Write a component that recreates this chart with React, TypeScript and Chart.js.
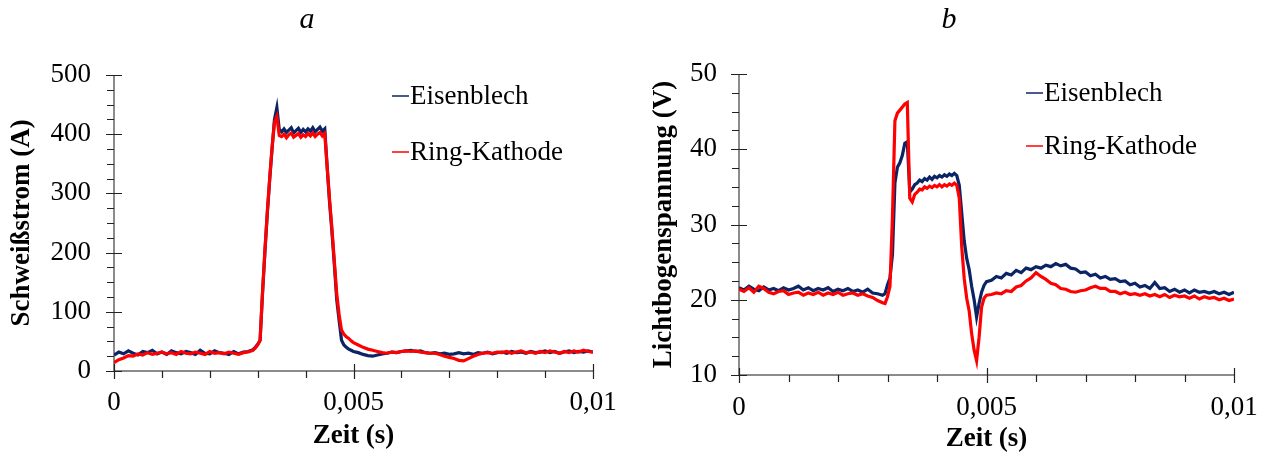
import { useEffect, useRef } from 'react';
import { Chart, registerables } from 'chart.js';

Chart.register(...registerables);

// time axis in microseconds
const TIME_US = [
  0, 100, 200, 300, 400, 500, 600, 700, 800, 900, 1000, 1100, 1200, 1300, 1400, 1500, 1600, 1700, 1800, 1900,
  2000, 2100, 2200, 2300, 2400, 2500, 2600, 2700, 2800, 2900,
  2950, 3000, 3050, 3100, 3150, 3200, 3250, 3300, 3350, 3400, 3450, 3500, 3550, 3600, 3650, 3700, 3750, 3800,
  3850, 3900, 3950, 4000, 4050, 4100, 4150, 4200, 4250, 4300, 4350, 4400, 4450, 4500, 4550, 4600, 4650, 4700,
  4750, 4800, 4850, 4900, 4950, 5000,
  5100, 5200, 5300, 5400, 5500, 5600, 5700, 5800, 5900, 6000, 6100, 6200, 6300, 6400, 6500, 6600, 6700, 6800,
  6900, 7000, 7100, 7200, 7300, 7400, 7500, 7600, 7700, 7800, 7900, 8000, 8100, 8200, 8300, 8400, 8500, 8600,
  8700, 8800, 8900, 9000, 9100, 9200, 9300, 9400, 9500, 9600, 9700, 9800, 9900, 10000,
];

// Schweißstrom (A)
const CURRENT_EISENBLECH = [
  27, 32, 29, 34, 30, 27, 33, 31, 35, 29, 32, 28, 34, 31, 29, 33, 31, 28, 35, 30, 29, 34, 31, 30, 28, 33, 29, 32, 33, 36,
  40, 45, 52, 130, 200, 265, 323, 375, 425, 445, 408, 404, 409, 403, 407, 411, 402, 406, 410, 403, 408, 404, 409, 405,
  411, 404, 408, 412, 405, 409, 345, 285, 235, 180, 120, 85, 52, 44, 40, 37, 35, 33,
  31, 28, 26, 25, 27, 29, 30, 32, 31, 33, 34, 35, 33, 34, 31, 30, 31, 29, 30, 28, 29, 31, 29, 30, 28, 31, 30, 32, 29,
  31, 32, 30, 33, 31, 32, 30, 33, 31, 32, 34, 31, 33, 30, 32, 34, 31, 33, 32, 34, 32,
];
const CURRENT_RING_KATHODE = [
  14, 19, 22, 26, 25, 29, 27, 31, 28, 30, 32, 29, 31, 28, 33, 30, 29, 32, 30, 28, 33, 30, 31, 29, 32, 30, 28, 31, 32, 35,
  39, 44, 52, 132, 203, 268, 325, 378, 420, 430, 398, 396, 400, 394, 399, 402, 395, 398, 401, 395, 399, 396, 401, 397,
  402, 396, 400, 403, 397, 401, 345, 290, 240, 185, 130, 95, 69, 62, 58, 55, 51, 48,
  44, 40, 37, 35, 33, 31, 30, 32, 31, 33, 34, 33, 34, 32, 31, 30, 30, 28, 25, 23, 21, 18, 17, 21, 25, 28, 30, 31, 30,
  32, 31, 33, 30, 32, 34, 31, 32, 30, 33, 31, 34, 32, 30, 33, 31, 34, 32, 35, 33, 32,
];

// Lichtbogenspannung (V)
const VOLTAGE_EISENBLECH = [
  21.6, 21.3, 21.8, 21.4, 21.2, 21.7, 21.3, 21.5, 21.2, 21.6, 21.3, 21.5, 21.8, 21.3, 21.6, 21.2, 21.5, 21.3, 21.6, 21.1,
  21.4, 21.2, 21.5, 21.1, 21.3, 21.0, 21.4, 20.9, 20.8, 20.6,
  20.8, 22.0, 22.9, 26.0, 35.5, 37.6, 38.2, 39.2, 40.8, 41.0, 34.3, 34.7, 35.3, 35.5, 35.9, 35.7, 36.1, 35.9, 36.3, 36.0,
  36.4, 36.2, 36.5, 36.3, 36.6, 36.4, 36.7, 36.5, 36.8, 36.5, 35.2, 31.5, 27.8, 25.5, 24.0, 21.8, 20.0, 17.7, 19.5, 21.0,
  21.9, 22.4,
  22.6, 23.1, 22.9, 23.5, 23.3, 23.9, 23.6, 24.2, 24.0, 24.4, 24.2, 24.6, 24.4, 24.8, 24.5, 24.7, 24.2, 24.1, 23.6, 23.7,
  23.2, 23.4, 22.9, 23.1, 22.7, 22.8, 22.4, 22.5, 22.0, 22.2, 21.7, 21.9, 21.5, 22.3, 21.5, 21.6, 21.1, 21.4, 21.0, 21.3,
  20.9, 21.3, 21.0, 21.1, 20.9, 21.1, 20.8, 21.0, 20.7, 21.0,
];
const VOLTAGE_RING_KATHODE = [
  21.4, 21.1, 21.6, 21.0, 21.8, 21.5, 21.0, 20.8, 21.1, 21.2, 20.7, 20.9, 21.0, 20.6, 20.9, 20.7, 21.0, 20.6, 20.9, 20.7,
  21.0, 20.6, 20.8, 20.9, 20.6, 20.8, 20.5, 20.3, 19.9, 19.6,
  19.5, 20.4, 21.8, 31.0, 43.8, 44.8, 45.2, 45.6, 46.0, 46.2, 33.5, 33.0, 34.0, 34.3, 34.7, 34.6, 35.0, 34.8, 35.1, 34.9,
  35.2, 35.0, 35.3, 35.0, 35.3, 35.1, 35.4, 35.2, 35.5, 35.2, 33.5, 27.0, 22.8, 20.2, 18.5, 15.5, 13.3, 11.9, 15.0, 19.0,
  20.2, 20.6,
  20.7, 20.9, 20.8, 21.2, 21.1, 21.7, 21.9, 22.5, 22.9, 23.6, 23.1, 22.7, 22.2, 22.0, 21.5, 21.4, 21.1, 21.0, 21.2, 21.3,
  21.6, 21.8, 21.5, 21.5, 21.1, 21.1, 20.8, 21.0, 20.7, 20.8, 20.6, 20.8, 20.5, 20.7, 20.4, 20.7, 20.3, 20.6, 20.4, 20.5,
  20.2, 20.5, 20.1, 20.4, 20.2, 20.3, 20.0, 20.2, 19.9, 20.1,
];

const SERIES_NAMES = ['Eisenblech', 'Ring-Kathode'];
const X_TICK_LABELS = ['0', '0,005', '0,01'];
const CURRENT_TICK_LABELS = ['0', '100', '200', '300', '400', '500'];
const VOLTAGE_TICK_LABELS = ['10', '20', '30', '40', '50'];

const BLUE = '#0b2466';
const RED = '#ff0000';
const SERIF = '"Liberation Serif", "Times New Roman", serif';

type PanelCfg = {
  letter: string;
  letterX: number;
  yTitle: string;
  yMin: number;
  yMax: number;
  yMajor: number;
  yMinor: number;
  yLabels: string[];
  blue: number[];
  red: number[];
  canvasLeft: number;
  canvasWidth: number;
  padRight: number;
  padTop: number;
  yAxisWidth: number;
  xAxisHeight: number;
  yLabelPad: number;
  xLabelPad: number;
  yTitlePad: number;
  xTitlePad: number;
  legendX: number;
  legendY: number[];
};

function makePlugin(cfg: PanelCfg) {
  return {
    id: 'customAxes' + cfg.letter,
    beforeDatasetsDraw(chart: any) {
      const { ctx, chartArea } = chart;
      const xs = chart.scales.x;
      const ys = chart.scales.y;
      const x0 = chartArea.left;
      const y0 = chartArea.bottom;
      ctx.save();
      ctx.strokeStyle = '#666';
      ctx.lineWidth = 1.5;
      ctx.beginPath();
      ctx.moveTo(x0, chartArea.top);
      ctx.lineTo(x0, y0);
      ctx.lineTo(chartArea.right, y0);
      ctx.stroke();

      ctx.strokeStyle = '#222';
      ctx.lineWidth = 1.2;
      ctx.beginPath();
      const n = Math.round((cfg.yMax - cfg.yMin) / cfg.yMinor);
      const per = Math.round(cfg.yMajor / cfg.yMinor);
      for (let i = 0; i <= n; i++) {
        const py = Math.round(ys.getPixelForValue(cfg.yMin + i * cfg.yMinor)) + 0.5;
        if (i % per === 0) {
          ctx.moveTo(x0 - 8, py);
          ctx.lineTo(x0 + 8, py);
        } else {
          ctx.moveTo(x0 - 7, py);
          ctx.lineTo(x0, py);
        }
      }
      for (let i = 0; i <= 10; i++) {
        const px = Math.round(xs.getPixelForValue(i * 0.001)) + 0.5;
        if (i % 5 === 0) {
          ctx.moveTo(px, y0 - 7);
          ctx.lineTo(px, y0 + 8);
        } else {
          ctx.moveTo(px, y0);
          ctx.lineTo(px, y0 + 7);
        }
      }
      ctx.stroke();
      ctx.restore();
    },
    afterDraw(chart: any) {
      const { ctx } = chart;
      ctx.save();
      ctx.fillStyle = '#000';
      ctx.font = `italic 30px ${SERIF}`;
      ctx.textAlign = 'center';
      ctx.textBaseline = 'alphabetic';
      ctx.fillText(cfg.letter, cfg.letterX, 28);

      ctx.font = `27px ${SERIF}`;
      ctx.textAlign = 'left';
      ctx.textBaseline = 'middle';
      [BLUE, RED].forEach((c, i) => {
        const ly = cfg.legendY[i];
        ctx.strokeStyle = c;
        ctx.lineWidth = 1.5;
        ctx.beginPath();
        ctx.moveTo(cfg.legendX, ly);
        ctx.lineTo(cfg.legendX + 17, ly);
        ctx.stroke();
        ctx.fillStyle = '#000';
        ctx.fillText(SERIES_NAMES[i], cfg.legendX + 18, ly + 1);
      });
      ctx.restore();
    },
  };
}

function Panel({ cfg }: { cfg: PanelCfg }) {
  const ref = useRef<HTMLCanvasElement | null>(null);
  useEffect(() => {
    if (!ref.current) return;
    const toData = (arr: number[]) => TIME_US.map((t, i) => ({ x: t / 1e6, y: arr[i] }));
    const chart = new Chart(ref.current, {
      type: 'line',
      data: {
        datasets: [
          {
            label: SERIES_NAMES[0],
            data: toData(cfg.blue),
            borderColor: BLUE,
            borderWidth: 3.2,
            pointRadius: 0,
            tension: 0,
            order: 2,
          },
          {
            label: SERIES_NAMES[1],
            data: toData(cfg.red),
            borderColor: RED,
            borderWidth: 3.2,
            pointRadius: 0,
            tension: 0,
            order: 1,
          },
        ],
      },
      options: {
        responsive: false,
        animation: false,
        layout: { padding: { left: 0, right: cfg.padRight, top: cfg.padTop, bottom: 0 } },
        plugins: { legend: { display: false }, tooltip: { enabled: false }, title: { display: false } },
        scales: {
          x: {
            type: 'linear',
            min: 0,
            max: 0.01,
            afterFit: (s: any) => {
              s.height = cfg.xAxisHeight;
            },
            grid: { display: false, drawTicks: false, tickLength: 0 },
            border: { display: false },
            ticks: {
              stepSize: 0.001,
              autoSkip: false,
              maxRotation: 0,
              padding: cfg.xLabelPad,
              color: '#000',
              font: { family: SERIF, size: 27, lineHeight: 1 },
              callback: (v: any) => {
                const k = Math.round(Number(v) / 0.001);
                return k % 5 === 0 ? X_TICK_LABELS[k / 5] : '';
              },
            },
            title: {
              display: true,
              text: 'Zeit (s)',
              color: '#000',
              font: { family: SERIF, size: 27, weight: 'bold', lineHeight: 1 },
              padding: { top: 0, bottom: cfg.xTitlePad },
            },
          },
          y: {
            type: 'linear',
            min: cfg.yMin,
            max: cfg.yMax,
            afterFit: (s: any) => {
              s.width = cfg.yAxisWidth;
            },
            grid: { display: false, drawTicks: false, tickLength: 0 },
            border: { display: false },
            ticks: {
              stepSize: cfg.yMajor,
              padding: cfg.yLabelPad,
              color: '#000',
              font: { family: SERIF, size: 27, lineHeight: 1 },
              callback: (_v: any, i: number) => cfg.yLabels[i],
            },
            title: {
              display: true,
              text: cfg.yTitle,
              color: '#000',
              font: { family: SERIF, size: 27, weight: 'bold', lineHeight: 1 },
              padding: { top: cfg.yTitlePad, bottom: 0 },
            },
          },
        },
      },
      plugins: [makePlugin(cfg)],
    } as any);
    return () => chart.destroy();
  }, [cfg]);
  return (
    <canvas
      ref={ref}
      width={cfg.canvasWidth}
      height={453}
      style={{ position: 'absolute', left: cfg.canvasLeft, top: 0, width: cfg.canvasWidth, height: 453 }}
    />
  );
}

const LEFT: PanelCfg = {
  letter: 'a',
  letterX: 307,
  yTitle: 'Schweißstrom (A)',
  yMin: 0,
  yMax: 500,
  yMajor: 100,
  yMinor: 25,
  yLabels: CURRENT_TICK_LABELS,
  blue: CURRENT_EISENBLECH,
  red: CURRENT_RING_KATHODE,
  canvasLeft: 0,
  canvasWidth: 637,
  padRight: 44,
  padTop: 75,
  yAxisWidth: 114,
  xAxisHeight: 82,
  yLabelPad: 23,
  xLabelPad: 18,
  yTitlePad: 9,
  xTitlePad: 3,
  legendX: 392,
  legendY: [96, 152],
};

const RIGHT: PanelCfg = {
  letter: 'b',
  letterX: 319,
  yTitle: 'Lichtbogenspannung (V)',
  yMin: 10,
  yMax: 50,
  yMajor: 10,
  yMinor: 2.5,
  yLabels: VOLTAGE_TICK_LABELS,
  blue: VOLTAGE_EISENBLECH,
  red: VOLTAGE_RING_KATHODE,
  canvasLeft: 630,
  canvasWidth: 648,
  padRight: 44,
  padTop: 74,
  yAxisWidth: 109,
  xAxisHeight: 78,
  yLabelPad: 22,
  xLabelPad: 19,
  yTitlePad: 21,
  xTitlePad: 0,
  legendX: 396,
  legendY: [93, 146],
};

export default function App() {
  return (
    <div
      style={{
        position: 'absolute',
        left: 0,
        top: 0,
        width: 1265,
        height: 453,
        overflow: 'hidden',
        background: '#fff',
      }}
    >
      <Panel cfg={LEFT} />
      <Panel cfg={RIGHT} />
    </div>
  );
}
